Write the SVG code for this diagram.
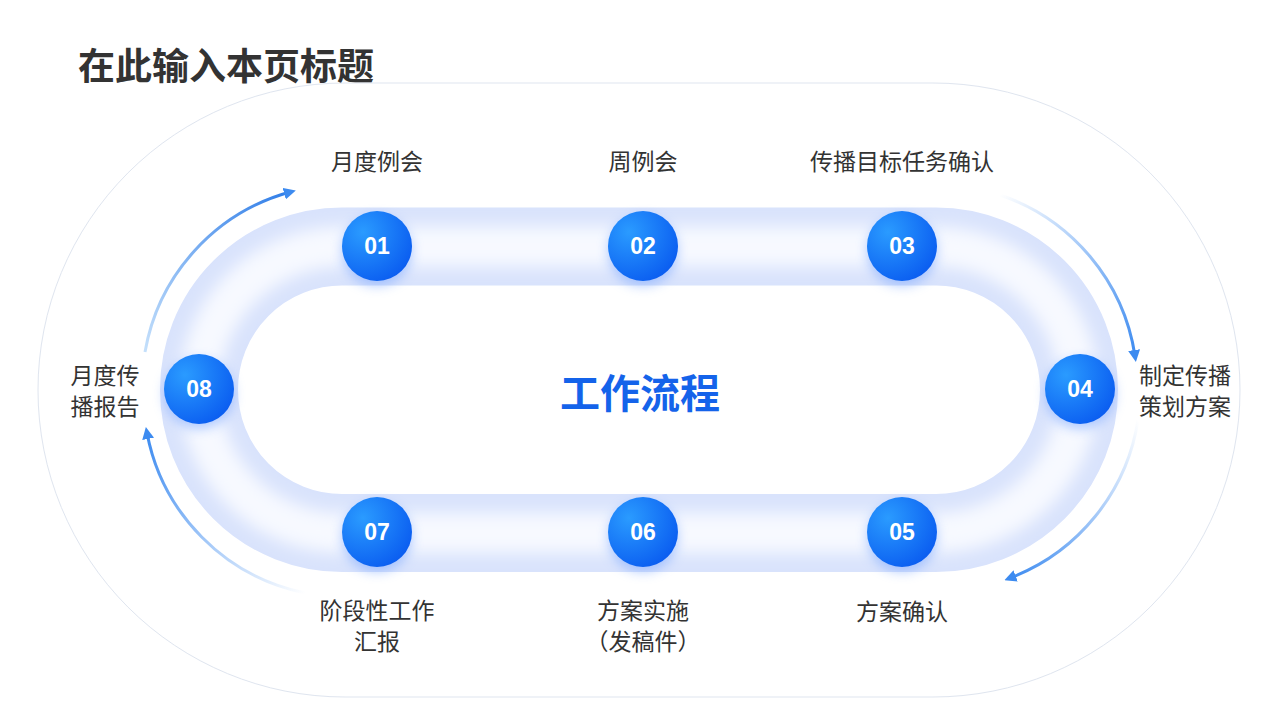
<svg xmlns="http://www.w3.org/2000/svg" width="1280" height="720" viewBox="0 0 1280 720">
<defs>
<style>
.t{font-family:"Noto Sans CJK SC","Noto Sans",sans-serif;font-size:23px;fill:#333;text-anchor:middle}
.n{font-family:"Liberation Sans",Arial,sans-serif;font-size:23px;font-weight:bold;fill:#fff;text-anchor:middle}
.c{fill:url(#cg)}
.arr{fill:none;stroke-width:3;marker-end:url(#ah)}
</style>
<radialGradient id="cg" cx="0.3" cy="0.3" r="0.8"><stop offset="0" stop-color="#2a9bff"/><stop offset="1" stop-color="#0a5cf0"/></radialGradient>
<filter id="bl" x="-20%" y="-20%" width="140%" height="140%"><feGaussianBlur stdDeviation="8"/></filter>
<filter id="sh" x="-50%" y="-50%" width="200%" height="200%"><feGaussianBlur stdDeviation="6"/></filter>
<marker id="ah" viewBox="0 0 10 10" refX="5" refY="5" markerWidth="4" markerHeight="4" orient="auto"><path d="M0,0L10,5L0,10z" fill="#3d8bf0"/></marker>
<linearGradient id="a1" x1="0" y1="1" x2="1" y2="0"><stop offset="0" stop-color="#c5e0fb"/><stop offset="1" stop-color="#2f7de8"/></linearGradient>
<linearGradient id="a2" x1="0" y1="0" x2="1" y2="1"><stop offset="0" stop-color="#ffffff"/><stop offset="1" stop-color="#3d8bf0"/></linearGradient>
<linearGradient id="a3" x1="1" y1="0" x2="0" y2="1"><stop offset="0" stop-color="#ffffff"/><stop offset="1" stop-color="#3d8bf0"/></linearGradient>
<linearGradient id="a4" x1="1" y1="1" x2="0" y2="0"><stop offset="0" stop-color="#ffffff"/><stop offset="1" stop-color="#3d8bf0"/></linearGradient>
</defs>
<rect width="1280" height="720" fill="#fff"/>
<text x="78" y="80" style="font-family:'Noto Sans CJK SC',sans-serif;font-size:37px;font-weight:bold;fill:#333">在此输入本页标题</text>
<rect x="38" y="83" width="1202" height="614" rx="307" fill="none" stroke="#dfe5ef" stroke-width="1"/>
<g id="track">
<rect x="199" y="246.5" width="880" height="286.5" rx="143" fill="none" stroke="#d9e3fc" stroke-width="78"/>
<rect x="199" y="246.5" width="880" height="286.5" rx="143" fill="none" stroke="#f7f9ff" stroke-width="40" filter="url(#bl)"/>
</g>
<text x="640" y="408" style="font-family:'Noto Sans CJK SC',sans-serif;font-size:40px;font-weight:bold;fill:#1463ea;text-anchor:middle">工作流程</text>
<g id="connectors">
<path class="arr" stroke="url(#a1)" d="M145,352 A202,202 0 0 1 290,192"/>
<path class="arr" stroke="url(#a2)" d="M1000,195 A202,202 0 0 1 1135,356"/>
<path class="arr" stroke="url(#a3)" d="M1138,420 A202,202 0 0 1 1010,578"/>
<path class="arr" stroke="url(#a4)" d="M305,593 A202,202 0 0 1 147,433"/>
</g>
<g id="n1"><circle cx="377" cy="251" r="35" fill="#6b9cff" opacity="0.5" filter="url(#sh)"/><circle class="c" cx="377" cy="246" r="35"/><text class="n" x="377" y="254">01</text><text class="t" x="377" y="170">月度例会</text></g>
<g id="n2"><circle cx="643" cy="251" r="35" fill="#6b9cff" opacity="0.5" filter="url(#sh)"/><circle class="c" cx="643" cy="246" r="35"/><text class="n" x="643" y="254">02</text><text class="t" x="643" y="170">周例会</text></g>
<g id="n3"><circle cx="902" cy="251" r="35" fill="#6b9cff" opacity="0.5" filter="url(#sh)"/><circle class="c" cx="902" cy="246" r="35"/><text class="n" x="902" y="254">03</text><text class="t" x="902" y="170">传播目标任务确认</text></g>
<g id="n4"><circle cx="1080" cy="394" r="35" fill="#6b9cff" opacity="0.5" filter="url(#sh)"/><circle class="c" cx="1080" cy="389" r="35"/><text class="n" x="1080" y="397">04</text><text class="t" x="1185" y="384">制定传播</text><text class="t" x="1185" y="415">策划方案</text></g>
<g id="n5"><circle cx="902" cy="537" r="35" fill="#6b9cff" opacity="0.5" filter="url(#sh)"/><circle class="c" cx="902" cy="532" r="35"/><text class="n" x="902" y="540">05</text><text class="t" x="902" y="620">方案确认</text></g>
<g id="n6"><circle cx="643" cy="537" r="35" fill="#6b9cff" opacity="0.5" filter="url(#sh)"/><circle class="c" cx="643" cy="532" r="35"/><text class="n" x="643" y="540">06</text><text class="t" x="643" y="619">方案实施</text><text class="t" x="643" y="650">（发稿件）</text></g>
<g id="n7"><circle cx="377" cy="537" r="35" fill="#6b9cff" opacity="0.5" filter="url(#sh)"/><circle class="c" cx="377" cy="532" r="35"/><text class="n" x="377" y="540">07</text><text class="t" x="377" y="619">阶段性工作</text><text class="t" x="377" y="650">汇报</text></g>
<g id="n8"><circle cx="199" cy="394" r="35" fill="#6b9cff" opacity="0.5" filter="url(#sh)"/><circle class="c" cx="199" cy="389" r="35"/><text class="n" x="199" y="397">08</text><text class="t" x="105" y="384">月度传</text><text class="t" x="105" y="415">播报告</text></g>
</svg>
